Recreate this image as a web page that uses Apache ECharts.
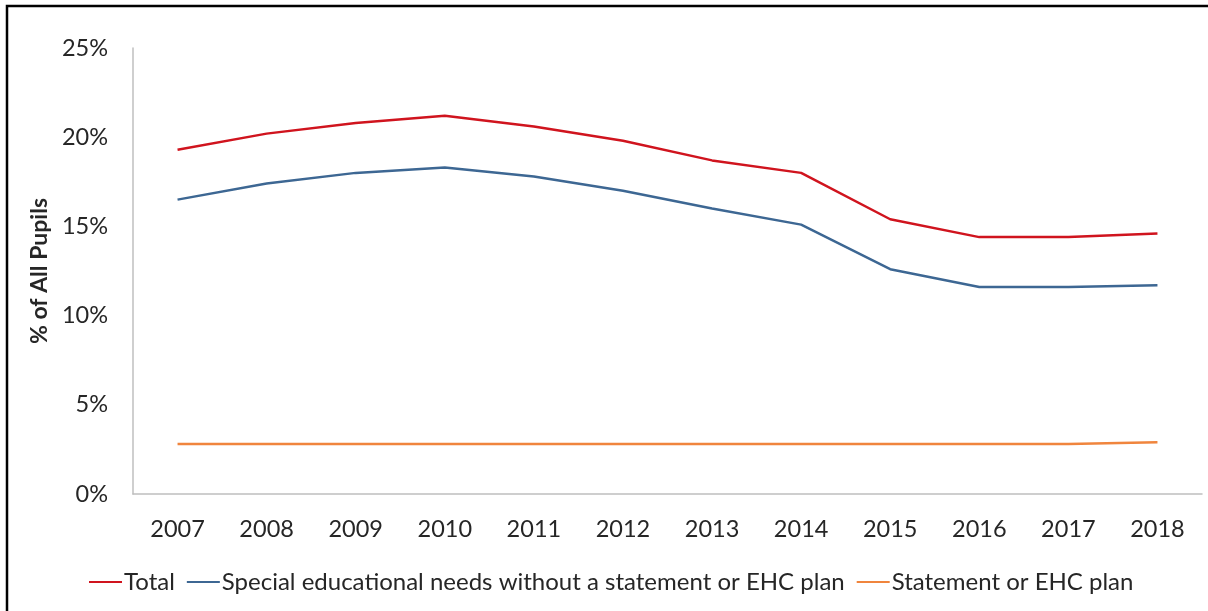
<!DOCTYPE html>
<html>
<head>
<meta charset="utf-8">
<script src="https://cdn.jsdelivr.net/npm/echarts@6/dist/echarts.min.js"></script>
<style>
  html, body { margin: 0; padding: 0; background: #fff; }
  #chart { width: 1208px; height: 611px; }
</style>
</head>
<body>
<div id="chart"></div>
<script>
// Years along the category axis
const years = ['2007', '2008', '2009', '2010', '2011', '2012', '2013', '2014', '2015', '2016', '2017', '2018'];

// Share of all pupils, in percent
const totalSen = [19.3, 20.2, 20.8, 21.2, 20.6, 19.8, 18.7, 18.0, 15.4, 14.4, 14.4, 14.6];
const senNoStatement = [16.5, 17.4, 18.0, 18.3, 17.8, 17.0, 16.0, 15.1, 12.6, 11.6, 11.6, 11.7];
const statementEhc = [2.8, 2.8, 2.8, 2.8, 2.8, 2.8, 2.8, 2.8, 2.8, 2.8, 2.8, 2.9];

const seriesNames = ['Total', 'Special educational needs without a statement or EHC plan', 'Statement or EHC plan'];
const yAxisTitle = '% of All Pupils';

const font = 'Lato, "Open Sans", sans-serif';
const textColor = '#262626';

const chart = echarts.init(document.getElementById('chart'), null, { renderer: 'canvas' });

function lineSeries(name, data, color) {
  return {
    name: name,
    type: 'line',
    data: data,
    symbol: 'none',
    smooth: false,
    lineStyle: { color: color, width: 2.5 },
    itemStyle: { color: color },
    emphasis: { disabled: true }
  };
}

chart.setOption({
  animation: false,
  backgroundColor: '#fff',
  graphic: [{
    type: 'rect',
    shape: { x: 7, y: 6, width: 1300, height: 700 },
    style: { fill: 'none', stroke: '#000', lineWidth: 2.5 },
    silent: true,
    z: 100
  }],
  grid: { left: 133, right: 6, top: 48, bottom: 117 },
  legend: {
    left: 84,
    top: 565,
    itemWidth: 33,
    itemHeight: 14,
    itemGap: 12,
    icon: 'path://M0,6 L33,6 L33,8 L0,8 Z',
    textStyle: { fontFamily: font, fontSize: 24, color: textColor, padding: [0, 0, 0, -3] },
    data: seriesNames
  },
  xAxis: {
    type: 'category',
    data: years,
    boundaryGap: true,
    axisLine: { show: true, lineStyle: { color: '#bfbfbf', width: 1.5 } },
    axisTick: { show: false },
    axisLabel: { fontFamily: font, fontSize: 23.5, color: textColor, margin: 23 },
    splitLine: { show: false }
  },
  yAxis: {
    type: 'value',
    min: 0,
    max: 25,
    interval: 5,
    name: yAxisTitle,
    nameLocation: 'middle',
    nameGap: 80,
    nameRotate: 90,
    nameTextStyle: { fontFamily: font, fontSize: 23, fontWeight: 'bold', color: textColor },
    axisLine: { show: true, lineStyle: { color: '#bfbfbf', width: 1.5 } },
    axisTick: { show: false },
    axisLabel: { fontFamily: font, fontSize: 23.5, color: textColor, margin: 25, formatter: '{value}%' },
    splitLine: { show: false }
  },
  series: [
    lineSeries(seriesNames[0], totalSen, '#d0141e'),
    lineSeries(seriesNames[1], senNoStatement, '#3d6793'),
    lineSeries(seriesNames[2], statementEhc, '#f0853d')
  ]
});
</script>
</body>
</html>
